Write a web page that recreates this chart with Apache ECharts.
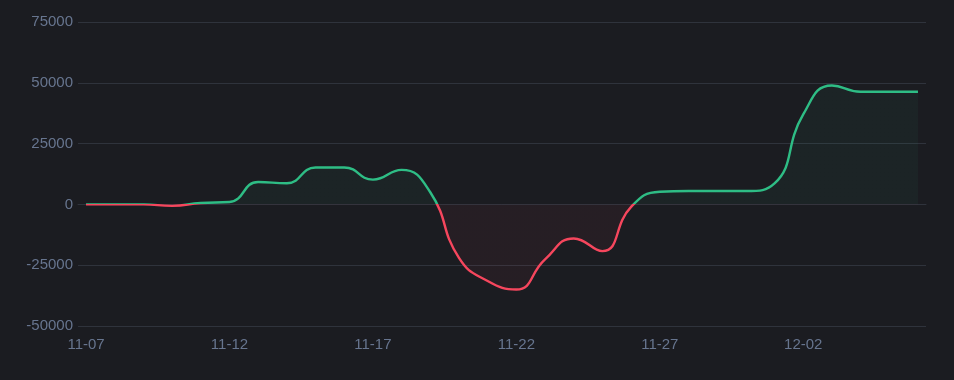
<!DOCTYPE html>
<html>
<head>
<meta charset="utf-8">
<script src="https://cdn.jsdelivr.net/npm/echarts@6/dist/echarts.min.js"></script>
<style>
html,body{margin:0;padding:0;background:#1b1c21;}
#c{width:954px;height:380px;}
</style>
</head>
<body>
<div id="c"></div>
<script>
const categories = ['11-07','11-08','11-09','11-10','11-11','11-12','11-13','11-14','11-15','11-16',
  '11-17','11-18','11-19','11-20','11-21','11-22','11-23','11-24','11-25','11-26',
  '11-27','11-28','11-29','11-30','12-01','12-02','12-03','12-04','12-05','12-06'];
const values = [0, 0, 0, -600, 600, 1000, 9200, 8700, 15200, 15200,
  10200, 14200, 5000, -22000, -31500, -35000, -22600, -14000, -19200, -1000,
  5200, 5500, 5500, 5500, 8600, 37000, 48900, 46300, 46300, 46300];
const yTicks = [-50000, -25000, 0, 25000, 50000, 75000];
const xLabelIdx = [0, 5, 10, 15, 20, 25];

const green = '#2ebd85', red = '#f6465d';
const chart = echarts.init(document.getElementById('c'), null, {renderer:'canvas'});
const labelColor = '#67758f';
const option = {
  backgroundColor: '#1b1c21',
  animation: false,
  grid: {left: 78, right: 28, top: 22, bottom: 54},
  xAxis: {
    type: 'value',
    min: -0.28, max: categories.length - 1 + 0.28,
    axisLine: {show: true, lineStyle: {color: '#2f333c'}},
    axisTick: {show: false},
    splitLine: {show: false},
    axisLabel: {
      customValues: xLabelIdx,
      color: labelColor, fontSize: 15, margin: 11,
      fontFamily: 'Liberation Sans',
      formatter: v => categories[Math.round(v)]
    }
  },
  yAxis: {
    type: 'value',
    min: yTicks[0], max: yTicks[yTicks.length-1], interval: 25000,
    axisLine: {show: false}, axisTick: {show: false},
    splitLine: {lineStyle: {color: '#2f333c', width: 1}},
    axisLabel: {color: labelColor, fontSize: 15, margin: 5, fontFamily: 'Liberation Sans',
      padding: [2, 0, 0, 0],
      formatter: v => String(v)}
  },
  series: [{
    type: 'line',
    smooth: 0.5,
    symbol: 'none',
    data: values.map((v, i) => [i, v]),
    lineStyle: {width: 2.4, color: green},
    areaStyle: {color: 'rgba(46,189,133,0.06)'}
  }]
};
chart.setOption(option);
const yTop = chart.convertToPixel({gridIndex: 0}, [0, yTicks[yTicks.length-1]])[1];
const yBot = chart.convertToPixel({gridIndex: 0}, [0, yTicks[0]])[1];
const yZero = chart.convertToPixel({gridIndex: 0}, [0, 0])[1];
const off = (yZero - yTop) / (yBot - yTop);
function grad(c1, c2) {
  return new echarts.graphic.LinearGradient(0, yTop, 0, yBot, [
    {offset: 0, color: c1}, {offset: off, color: c1},
    {offset: off, color: c2}, {offset: 1, color: c2}
  ], true);
}
chart.setOption({series: [{
  lineStyle: {color: grad(green, red)},
  areaStyle: {color: grad('rgba(46,189,133,0.07)', 'rgba(246,70,93,0.07)')}
}]});
</script>
</body>
</html>
